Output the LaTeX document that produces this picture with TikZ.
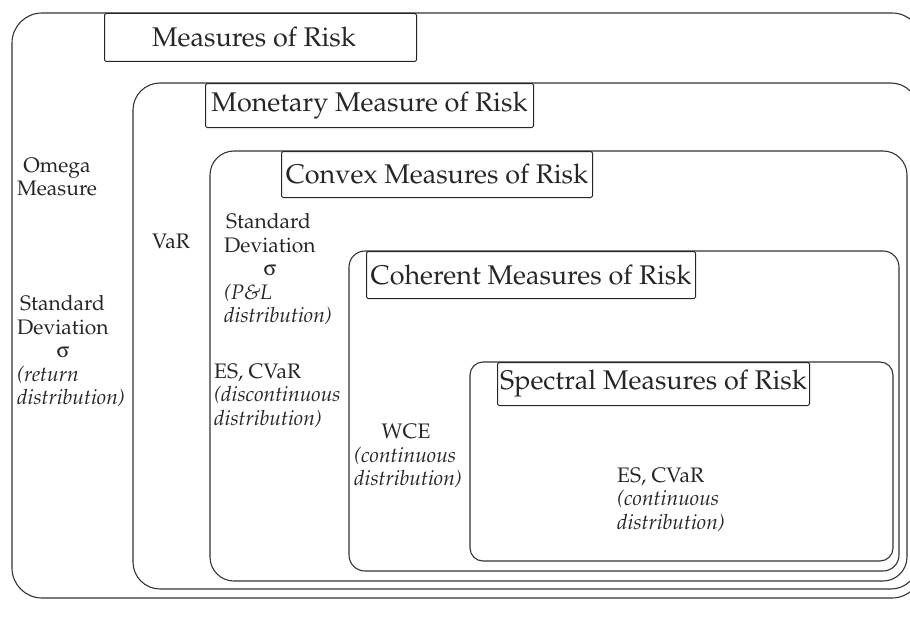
\documentclass[tikz,border=0pt]{standalone}
\usepackage[T1]{fontenc}
\usepackage{mathpazo}
\usepackage{pifont}
\newcommand{\sigmasym}{\Pisymbol{psy}{115}}
\tikzset{
	setline/.style={line width=1.1pt, color=black!80},
	titlebox/.style={draw, line width=1pt, color=black!85, rounded corners=1.5pt, font=\fontsize{27}{32}\selectfont, inner sep=0pt, anchor=north west},
	bodytext/.style={font=\fontsize{21}{23.5}\selectfont, inner sep=0pt, color=black!85},
	notetext/.style={bodytext, align=left, anchor=base west},
}

\begin{document}
\begin{tikzpicture}[x=1pt,y=-1pt]
	%%%%% START %%%%%
	\useasboundingbox (0,0) rectangle (910,626);
	\clip (0,0) rectangle (910,626);
	
	\draw[setline, rounded corners=30pt] (12,13) rectangle (922,598);
	\draw[setline, rounded corners=27pt] (133,83) rectangle (918,589);
	\draw[setline, rounded corners=24pt] (210,151) rectangle (907,581);
	\draw[setline, rounded corners=16pt] (349,251) rectangle (899,571);
	\draw[setline, rounded corners=13pt] (470,362) rectangle (893,561);
	
	\node[titlebox, minimum width=312pt, minimum height=48pt] (measures) at (104,13) {Measures of Risk\hspace*{13pt}};
	\node[titlebox, minimum width=328pt, minimum height=44pt] (monetary) at (205,83) {Monetary Measure of Risk};
	\node[titlebox, minimum width=311pt, minimum height=46pt] (convex) at (281,151) {Convex Measures of Risk};
	\node[titlebox, minimum width=329pt, minimum height=47pt] (coherent) at (366,251) {Coherent Measures of Risk};
	\node[titlebox, minimum width=312pt, minimum height=43pt] (spectral) at (497,362) {Spectral Measures of Risk};
	
	% multi-line nodes sit on the baseline of their last line
	\node[bodytext, align=center, anchor=base] (omega) at (57,195.5) {Omega\\Measure};
	\node[notetext] (stdreturn) at (17,404.5) {\hspace*{3pt}Standard\\Deviation\\\hspace*{39.5pt}\sigmasym\\\textit{(return}\\\textit{distribution)}};
	
	\node[bodytext, anchor=base] (var) at (171,248) {VaR};
	
	\node[notetext] (stdpl) at (224,322.5) {\hspace*{2pt}Standard\\Deviation\\\hspace*{39.5pt}\sigmasym\\\textit{(P\&L}\\\textit{distribution)}};
	\node[notetext] (esdisc) at (214,425) {ES, CVaR\\\textit{(discontinuous}\\\textit{distribution)}};
	
	\node[bodytext, anchor=base] (wce) at (406,438) {WCE};
	\node[notetext] (wcenote) at (354,485.5) {\textit{(continuous}\\\textit{distribution)}};
	
	\node[notetext] (escont) at (617,529) {ES, CVaR\\\textit{(continuous}\\\textit{distribution)}};
	%%%%% END %%%%%
\end{tikzpicture}
\end{document}
